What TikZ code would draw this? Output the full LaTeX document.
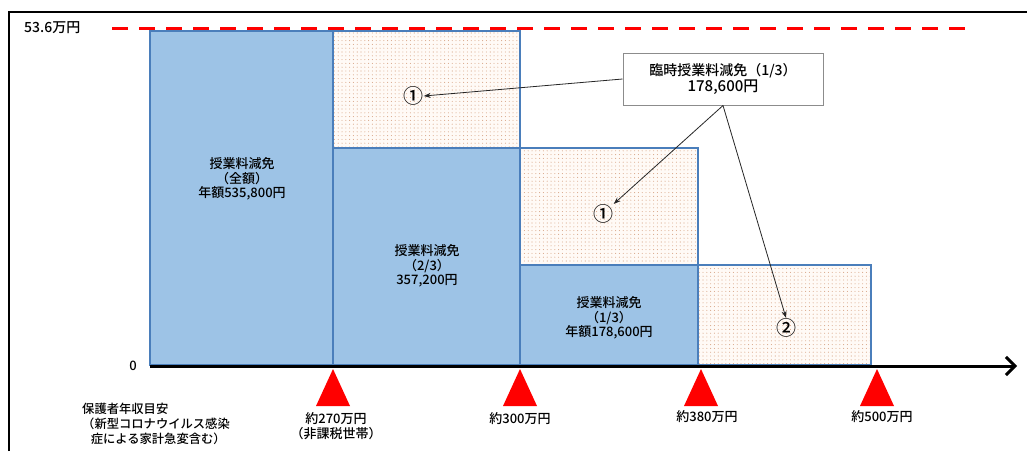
\documentclass[tikz,border=0pt]{standalone}
\usepackage{fontspec}
\setmainfont{Noto Sans CJK JP}[UprightFont={* Medium}]
\usetikzlibrary{arrows.meta,patterns.meta}
\definecolor{boxfill}{HTML}{9DC3E6}
\definecolor{boxedge}{HTML}{4A7EBB}
\definecolor{dotfill}{HTML}{FFFAF6}
\definecolor{dotcol}{HTML}{D9A88A}
\tikzset{
  solidbox/.style={draw=boxedge, line width=2pt, fill=boxfill},
  dotbox/.style={draw=boxedge, line width=2pt, preaction={fill=dotfill},
     pattern={Dots[distance=3.8pt, radius=0.55pt]}, pattern color=dotcol},
  boxlabel/.style={align=center, font=\fontsize{13}{14.5}\selectfont, inner sep=0pt},
  circnum/.style={font=\fontsize{20}{20}\selectfont, inner sep=0.5pt},
  ticklabel/.style={align=center, font=\fontsize{13}{15}\selectfont, inner sep=0pt, anchor=north},
  marker/.style={fill=red, draw=none},
  callarrow/.style={draw=black!85, line width=0.8pt, -{Stealth[length=7pt,width=5pt]}},
}
\begin{document}
\begin{tikzpicture}[x=1pt,y=-1pt]
\useasboundingbox (0,0) rectangle (1027,451);
\fill[white] (0,0) rectangle (1027,451);
% frame
\draw[line width=1.5pt] (9,451) -- (9,12) -- (1027,12);
% red dashed top line
\draw[red, line width=3pt, dash pattern=on 16pt off 11pt] (112,28) -- (968,28);
\node[font=\fontsize{14}{14}\selectfont, anchor=west, inner sep=0pt] (top) at (24,28) {53.6万円};
% bars
\draw[solidbox] (150,31) rectangle (333,365);
\draw[dotbox] (333,31) rectangle (520,148);
\draw[solidbox] (333,148) rectangle (520,365);
\draw[dotbox] (520,148) rectangle (698,265);
\draw[solidbox] (520,265) rectangle (698,365);
\draw[dotbox] (698,265) rectangle (871,365);
% bar labels
\node[boxlabel] (la) at (242,179) {授業料減免\\（全額）\\年額535,800円};
\node[boxlabel] (lc) at (427,266) {授業料減免\\（2/3）\\357,200円};
\node[boxlabel] (le) at (609,318) {授業料減免\\（1/3）\\年額178,600円};
% circled numbers
\node[circnum] (c1) at (413,96) {①};
\node[circnum] (c2) at (603,214) {①};
\node[circnum] (c3) at (786,328) {②};
% axis
\node[font=\fontsize{13}{13}\selectfont, inner sep=0pt] (zero) at (133,366) {0};
\coordinate (ax0) at (150,366);
\coordinate (ax1) at (1017,366);
\draw[line width=3pt, -{Straight Barb[length=9pt,width=18pt,line width=3pt]}] (ax0) -- (ax1);
% markers
\foreach \x in {333,520,701,877}{
  \fill[marker] (\x,369) -- (\x+17,406) -- (\x-17,406) -- cycle;
}
\node[ticklabel] (t1) at (336,412) {約270万円\\（非課税世帯）};
\node[ticklabel] (t2) at (520,412) {約300万円};
\node[ticklabel] (t3) at (707,410) {約380万円};
\node[ticklabel] (t4) at (882,410) {約500万円};
\node[align=left, anchor=north west, inner sep=0pt, font=\fontsize{12.3}{15}\selectfont] (inc) at (82,403)
  {保護者年収目安\\（新型コロナウイルス感染\\\hspace*{0.7em}症による家計急変含む）};
% callout
\node[draw=black!45, line width=1pt, fill=white, minimum width=200pt, minimum height=52pt,
      align=center, inner sep=0pt, font=\fontsize{14}{16}\selectfont] (call) at (723,79)
  {臨時授業料減免（1/3）\\{\fontsize{15}{16}\selectfont 178,600円}};
\draw[callarrow] (call.west) -- (c1.east);
\draw[callarrow] (call.south) -- (c2.north east);
\draw[callarrow] (call.south) -- (c3.north);
\end{tikzpicture}
\end{document}
